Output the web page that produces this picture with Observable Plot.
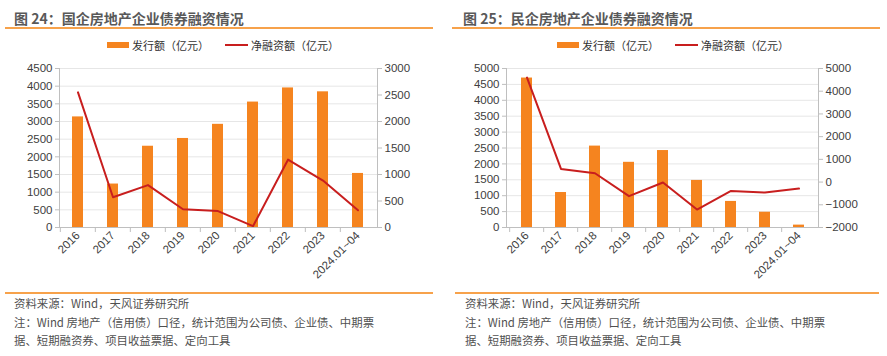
<!DOCTYPE html>
<html><head><meta charset="utf-8">
<script src="https://cdn.jsdelivr.net/npm/d3@7"></script>
<script src="https://cdn.jsdelivr.net/npm/@observablehq/plot@0.6"></script>
<style>
body{margin:0;background:#fff;font-family:"Liberation Sans","Noto Sans CJK SC",sans-serif;}
#wrap{position:relative;width:887px;height:356px;overflow:hidden;}
.title{position:absolute;top:8px;font:bold 14px "Noto Sans CJK SC",sans-serif;color:#595959;white-space:nowrap;}
.rule{position:absolute;height:2px;background:#F7A24B;}
.legend{position:absolute;top:37px;font:11px "Noto Sans CJK SC",sans-serif;color:#333;white-space:nowrap;display:flex;align-items:center;}
.sw-bar{display:inline-block;width:22px;height:6px;background:#F5841F;margin-right:3px;}
.sw-line{display:inline-block;width:23px;height:2px;background:#C81E1E;margin-right:3px;margin-left:16px;}
.chart{position:absolute;top:60px;}
.foot{position:absolute;top:294px;font:11.4px "Noto Sans CJK SC",sans-serif;color:#505050;line-height:18.7px;white-space:nowrap;}
</style></head>
<body><div id="wrap">
<div class="title" style="left:14px">图 24：国企房地产企业债券融资情况</div>
<div class="rule" style="left:5px;width:428px;top:27px"></div>
<div class="legend" style="left:107px"><span class="sw-bar"></span>发行额（亿元）<span class="sw-line"></span>净融资额（亿元）</div>
<div class="chart" id="c1" style="left:5px"></div>
<div class="rule" style="left:5px;width:428px;top:292px;height:1.5px"></div>
<div class="foot" style="left:14px">资料来源：Wind，天风证券研究所<br>注：Wind 房地产（信用债）口径，统计范围为公司债、企业债、中期票<br>据、短期融资券、项目收益票据、定向工具</div>

<div class="title" style="left:463px">图 25：民企房地产企业债券融资情况</div>
<div class="rule" style="left:452px;width:428px;top:27px"></div>
<div class="legend" style="left:557px"><span class="sw-bar"></span>发行额（亿元）<span class="sw-line"></span>净融资额（亿元）</div>
<div class="chart" id="c2" style="left:455px"></div>
<div class="rule" style="left:455px;width:424px;top:292px;height:1.5px"></div>
<div class="foot" style="left:465px">资料来源：Wind，天风证券研究所<br>注：Wind 房地产（信用债）口径，统计范围为公司债、企业债、中期票<br>据、短期融资券、项目收益票据、定向工具</div>
</div>
<script>
const categories = ["2016","2017","2018","2019","2020","2021","2022","2023","2024.01~04"];
// 国企
const soeIssuance = [3130,1230,2300,2520,2920,3550,3950,3840,1530];
const soeNet = [2550,570,800,345,310,25,1280,885,325];
const soeLeftTicks = [0,500,1000,1500,2000,2500,3000,3500,4000,4500];
const soeRightTicks = [0,500,1000,1500,2000,2500,3000];
// 民企
const poeIssuance = [4700,1100,2560,2050,2420,1480,820,480,75];
const poeNet = [4600,580,390,-620,-20,-1210,-390,-460,-285];
const poeLeftTicks = [0,500,1000,1500,2000,2500,3000,3500,4000,4500,5000];
const poeRightTicks = [-2000,-1000,0,1000,2000,3000,4000,5000];

const fmt = d3.format("d");
const BAR = "#F5841F", LINE = "#C81E1E", AX = "#BFBFBF", TXT = "#404040";

function draw(el, {issuance, net, leftTicks, rightTicks, mL, mR}) {
  const lMax = leftTicks[leftTicks.length-1];
  const rMin = rightTicks[0], rMax = rightTicks[rightTicks.length-1];
  const toL = r => (r - rMin) * lMax / (rMax - rMin);
  const toR = l => l * (rMax - rMin) / lMax + rMin;
  const rows = categories.map((c,i)=>({c, v: issuance[i], n: toL(net[i])}));
  const width = 420, height = 230;
  const step = (width - mL - mR) / categories.length;
  const p = Plot.plot({
    width, height, marginLeft: mL, marginRight: mR, marginTop: 8, marginBottom: 63,
    style: {fontFamily: "Liberation Sans, Arial, sans-serif", fontSize: "11.5px", color: TXT, background: "transparent"},
    x: {domain: categories, paddingInner: 0.68, paddingOuter: 0.34, axis: null},
    y: {domain: [0, lMax], axis: null},
    marks: [
      Plot.gridY(leftTicks.filter(d=>d>0), {stroke: "#E6E6E6", strokeOpacity: 1}),
      Plot.barY(rows, {x: "c", y: "v", fill: BAR}),
      Plot.line(rows, {x: "c", y: "n", stroke: LINE, strokeWidth: 2}),
      Plot.axisY(leftTicks, {anchor: "left", tickFormat: fmt, tickSize: 4, stroke: AX, fill: TXT, tickPadding: 3, label: null}),
      Plot.axisY(rightTicks.map(toL), {anchor: "right", tickFormat: d => fmt(Math.round(toR(d))), tickSize: 4, stroke: AX, fill: TXT, tickPadding: 3, label: null}),
      Plot.frame({anchor: "left", stroke: AX}),
      Plot.frame({anchor: "right", stroke: AX}),
      Plot.frame({anchor: "bottom", stroke: AX}),
      Plot.axisX({anchor: "bottom", tickSize: 5, tickFormat: () => "", dx: -step/2, stroke: AX, label: null}),
      Plot.axisX({anchor: "bottom", tickSize: 0, tickRotate: -45, tickPadding: 6, fill: TXT, fontSize: "11.5px", label: null})
    ]
  });
  el.appendChild(p);
}
draw(document.getElementById("c1"), {issuance: soeIssuance, net: soeNet, leftTicks: soeLeftTicks, rightTicks: soeRightTicks, mL: 54, mR: 48});
draw(document.getElementById("c2"), {issuance: poeIssuance, net: poeNet, leftTicks: poeLeftTicks, rightTicks: poeRightTicks, mL: 51, mR: 57});
</script>
</body></html>
